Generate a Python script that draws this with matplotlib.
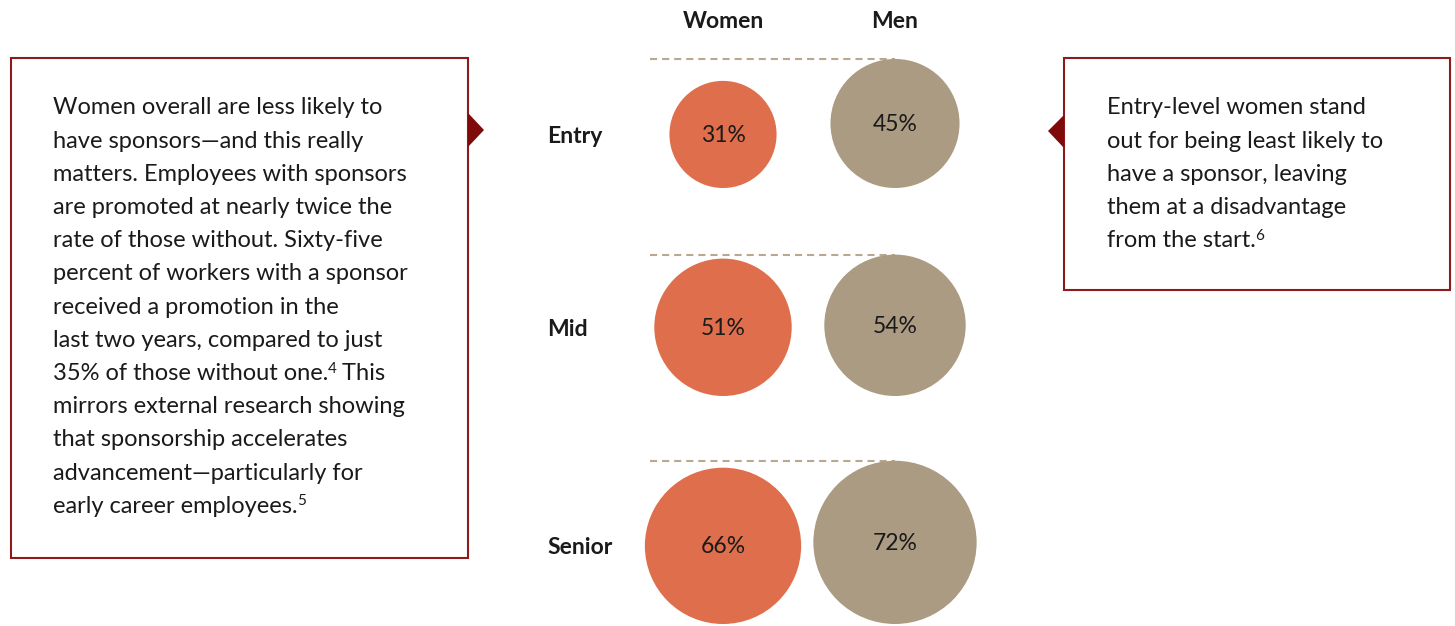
import matplotlib
matplotlib.use('Agg')
import matplotlib.pyplot as plt
import numpy as np
from matplotlib.patches import Circle, Rectangle, Polygon

plt.rcParams['font.family'] = ['Lato', 'DejaVu Sans']

# data
levels = ['Entry', 'Mid', 'Senior']
women = [31, 51, 66]
men = [45, 54, 72]
groups = ['Women', 'Men']

left_lines = [
    'Women overall are less likely to',
    'have sponsors\u2014and this really',
    'matters. Employees with sponsors',
    'are promoted at nearly twice the',
    'rate of those without. Sixty-five',
    'percent of workers with a sponsor',
    'received a promotion in the',
    'last two years, compared to just',
    ('35% of those without one.', '4', ' This'),
    'mirrors external research showing',
    'that sponsorship accelerates',
    'advancement\u2014particularly for',
    ('early career employees.', '5', ''),
]
right_lines = [
    'Entry-level women stand',
    'out for being least likely to',
    'have a sponsor, leaving',
    'them at a disadvantage',
    ('from the start.', '6', ''),
]

c_women = '#DF6F4C'
c_men = '#AB9B82'
c_dash = '#B9A78F'
c_border = '#8E1B1B'
c_arrow = '#7F0A0A'
c_text = '#1a1a1a'

fig = plt.figure(figsize=(14.55, 6.26), dpi=100)
ax = fig.add_axes([0, 0, 1, 1])
ax.set_xlim(0, 1455)
ax.set_ylim(626, 0)
ax.set_aspect('equal')
ax.axis('off')

# circles (area proportional to value, bottoms aligned per row)
k = 9.62
col_x = [723, 895]
row_bottom = [188, 396, 624]
for i, lev in enumerate(levels):
    rw = k * np.sqrt(women[i])
    rm = k * np.sqrt(men[i])
    yb = row_bottom[i]
    ax.add_patch(Circle((col_x[0], yb - rw), rw, color=c_women, lw=0))
    ax.add_patch(Circle((col_x[1], yb - rm), rm, color=c_men, lw=0))
    ax.text(col_x[0], yb - rw + 1, f'{women[i]}%', ha='center', va='center',
            fontsize=16.5, color=c_text)
    ax.text(col_x[1], yb - rm + 1, f'{men[i]}%', ha='center', va='center',
            fontsize=16.5, color=c_text)
    top = yb - 2 * max(rw, rm)
    ax.plot([650, col_x[1]], [top, top], color=c_dash, lw=1.5,
            dashes=(3.4, 2.4), zorder=0)
    ax.text(547, yb - rw + 2, lev, ha='left', va='center', fontsize=16.5,
            fontweight='bold', color=c_text)

for x, g in zip(col_x, groups):
    ax.text(x, 21, g, ha='center', va='center', fontsize=16.5,
            fontweight='bold', color=c_text)


def write_lines(lines, x0, y0, step):
    for j, ln in enumerate(lines):
        y = y0 + j * step
        if isinstance(ln, tuple):
            main, sup, rest = ln
            t = ax.text(x0, y, main, ha='left', va='center', fontsize=17,
                        color=c_text)
            s = ax.annotate(sup, xy=(1, 1), xycoords=t, xytext=(-0.5, -4),
                            textcoords='offset points', ha='left', va='center',
                            fontsize=11, color=c_text)
            if rest:
                ax.annotate(rest, xy=(1, 0.5), xycoords=(s, t),
                            xytext=(-0.5, 0), textcoords='offset points',
                            ha='left', va='center', fontsize=17,
                            color=c_text, annotation_clip=False)
        else:
            ax.text(x0, y, ln, ha='left', va='center', fontsize=17,
                    color=c_text)


# left box
ax.add_patch(Rectangle((11, 58), 457, 500, fill=False, ec=c_border, lw=1.5))
ax.add_patch(Polygon([(468, 113), (484, 130), (468, 147)], closed=True,
                     color=c_arrow, lw=0))
write_lines(left_lines, 53, 108, 33.2)

# right box
ax.add_patch(Rectangle((1064, 58), 386, 232, fill=False, ec=c_border, lw=1.5))
ax.add_patch(Polygon([(1064, 115), (1048, 131), (1064, 148)], closed=True,
                     color=c_arrow, lw=0))
write_lines(right_lines, 1107, 108, 33.2)

fig.savefig('out.png', dpi=100, facecolor='white')
